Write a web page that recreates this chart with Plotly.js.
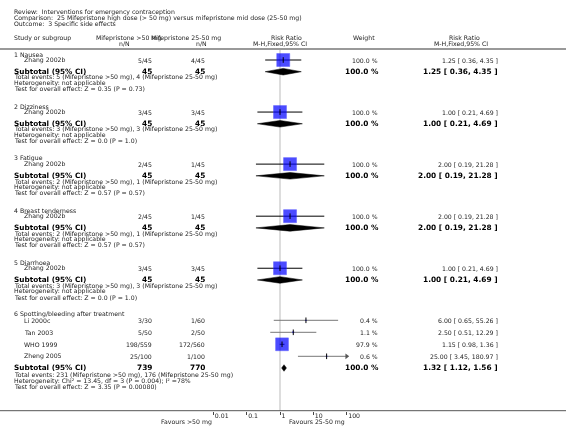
<!DOCTYPE html>
<html><head><meta charset="utf-8">
<script src="https://cdn.plot.ly/plotly-3.0.1.min.js"></script>
<style>
html,body{margin:0;padding:0;background:#fff}
#chart .main-svg:nth-of-type(2){filter:grayscale(1)}
#chart .xtick text{filter:grayscale(1)}
</style>
</head><body><div id="chart" style="width:566px;height:441px"></div>
<script>
// ---------- data ----------
const reviewTitle = "Review:\u00a0\u00a0Interventions for emergency contraception";
const comparisonTitle = "Comparison:\u00a0\u00a025 Mifepristone high dose (> 50 mg) versus mifepristone mid dose (25-50 mg)";
const outcomeTitle = "Outcome:\u00a0\u00a03 Specific side effects";
const groupHigh = "Mifepristone >50 mg";
const groupMid = "Mifepristone 25-50 mg";

const groupNames = ["1 Nausea", "2 Dizziness", "3 Fatigue", "4 Breast tenderness", "5 Diarrhoea", "6 Spotting/bleeding after treatment"];
const groupStudyCount = [1, 1, 1, 1, 1, 4];

const studyNames = ["Zhang 2002b", "Zhang 2002b", "Zhang 2002b", "Zhang 2002b", "Zhang 2002b", "Li 2000c", "Tan 2003", "WHO 1999", "Zheng 2005"];
const eventsHigh = [5, 3, 2, 2, 3, 3, 5, 198, 25];
const totalHigh = [45, 45, 45, 45, 45, 30, 50, 559, 100];
const eventsMid = [4, 3, 1, 1, 3, 1, 2, 172, 1];
const totalMid = [45, 45, 45, 45, 45, 60, 50, 560, 100];
const studyWeight = [100.0, 100.0, 100.0, 100.0, 100.0, 0.4, 1.1, 97.9, 0.6];
const studyRR = [1.25, 1.00, 2.00, 2.00, 1.00, 6.00, 2.50, 1.15, 25.00];
const studyLow = [0.36, 0.21, 0.19, 0.19, 0.21, 0.65, 0.51, 0.98, 3.45];
const studyHigh = [4.35, 4.69, 21.28, 21.28, 4.69, 55.26, 12.29, 1.36, 180.97];

const subTotalHigh = [45, 45, 45, 45, 45, 739];
const subTotalMid = [45, 45, 45, 45, 45, 770];
const subEventsHigh = [5, 3, 2, 2, 3, 231];
const subEventsMid = [4, 3, 1, 1, 3, 176];
const subWeight = [100.0, 100.0, 100.0, 100.0, 100.0, 100.0];
const subRR = [1.25, 1.00, 2.00, 2.00, 1.00, 1.32];
const subLow = [0.36, 0.21, 0.19, 0.19, 0.21, 1.12];
const subHigh = [4.35, 4.69, 21.28, 21.28, 4.69, 1.56];
const heterogeneity = ["not applicable", "not applicable", "not applicable", "not applicable", "not applicable",
  "Chi\u00b2 = 13.45, df = 3 (P = 0.004); I\u00b2 =78%"];
const zStat = ["0.35", "0.0", "0.57", "0.57", "0.0", "3.35"];
const pValue = ["0.73", "1.0", "0.57", "0.57", "1.0", "0.00080"];

const tickVals = [0.01, 0.1, 1, 10, 100];
const tickText = ["0.01", "0.1", "1", "10", "100"];
const favoursLeft = "Favours >50 mg";
const favoursRight = "Favours 25-50 mg";

// ---------- layout helpers ----------
const W = 566, H = 441;
const AXIS_Y = 410.7, HEADER_LINE_Y = 49;
const X0 = 213.3, X1 = 346.7;
const FONT = "DejaVu Sans, Verdana, sans-serif";
const SMALL = 6.2, BOLD = 7.4;
const TXT = "#222";

const annotations = [];
function ann(text, px, py, anchor, size, bold, color) {
  annotations.push({
    text: text, x: px / W, y: 1 - py / H, xref: "paper", yref: "paper",
    xanchor: anchor, yanchor: "middle", showarrow: false, borderpad: 0,
    font: {family: FONT, size: size, color: color || (bold ? "#000" : TXT), weight: bold ? "bold" : "normal"}
  });
}
const fmt2 = v => v.toFixed(2);
const rrText = (r, l, h) => fmt2(r) + " [ " + fmt2(l) + ", " + fmt2(h) + " ]";
const wText = w => w.toFixed(1) + " %";

// header
ann(reviewTitle, 13, 11.7, "left", SMALL);
ann(comparisonTitle, 13, 18.0, "left", SMALL);
ann(outcomeTitle, 13, 24.3, "left", SMALL);
ann("Study or subgroup", 13, 37.7, "left", SMALL);
ann(groupHigh, 95, 37.7, "left", SMALL);
ann(groupMid, 222, 37.7, "right", SMALL);
ann("n/N", 124.7, 43.3, "center", SMALL);
ann("n/N", 201, 43.3, "center", SMALL);
ann("Risk Ratio", 286, 37.7, "center", SMALL);
ann("M-H,Fixed,95% CI", 280, 43.3, "center", SMALL);
ann("Weight", 363.5, 37.7, "center", SMALL);
ann("Risk Ratio", 464.7, 37.7, "center", SMALL);
ann("M-H,Fixed,95% CI", 461, 43.3, "center", SMALL);

// rows
const ciBlack = {x: [], y: []}, ciGray = {x: [], y: []};
const sqX = [], sqY = [], sqS = [], ptX = [], ptY = [], arrX = [], arrY = [];
const diamonds = [];
let gy = 54, si = 0;
for (let g = 0; g < groupNames.length; g++) {
  ann(groupNames[g], 13, gy, "left", SMALL);
  let sy = gy + 6;
  for (let k = 0; k < groupStudyCount[g]; k++, si++) {
    if (k > 0) sy += 12;
    ann(studyNames[si], 23.3, sy, "left", SMALL);
    ann(eventsHigh[si] + "/" + totalHigh[si], 153, sy, "right", SMALL);
    ann(eventsMid[si] + "/" + totalMid[si], 206, sy, "right", SMALL);
    ann(wText(studyWeight[si]), 379, sy, "right", SMALL);
    ann(rrText(studyRR[si], studyLow[si], studyHigh[si]), 499, sy, "right", SMALL);
    const tgt = studyWeight[si] >= 50 ? ciBlack : ciGray;
    tgt.x.push(studyLow[si], studyHigh[si], null);
    tgt.y.push(sy, sy, null);
    sqX.push(studyRR[si]); sqY.push(sy); sqS.push(13 * Math.sqrt(studyWeight[si] / 100));
    ptX.push(studyRR[si]); ptY.push(sy);
    if (studyHigh[si] > tickVals[tickVals.length - 1]) { arrX.push(tickVals[tickVals.length - 1]); arrY.push(sy); }
  }
  const subY = sy + 11.7;
  ann("Subtotal (95% CI)", 13, subY, "left", 7.3, true);
  ann(String(subTotalHigh[g]), 153, subY, "right", BOLD, true);
  ann(String(subTotalMid[g]), 206, subY, "right", BOLD, true);
  ann(wText(subWeight[g]), 379.5, subY, "right", BOLD, true);
  ann(rrText(subRR[g], subLow[g], subHigh[g]), 499, subY, "right", BOLD, true);
  diamonds.push({lo: subLow[g], est: subRR[g], hi: subHigh[g], y: subY});
  const extra = groupStudyCount[g] > 1 ? 1.7 : 0;
  const totY = subY + 5.7 + extra, hetY = totY + 5.8, testY = hetY + 5.6;
  ann("Total events: " + subEventsHigh[g] + " (" + groupHigh + "), " + subEventsMid[g] + " (" + groupMid + ")", 13, totY, "left", SMALL);
  ann("Heterogeneity: " + heterogeneity[g], 13, hetY, "left", SMALL);
  ann("Test for overall effect: Z = " + zStat[g] + " (P = " + pValue[g] + ")", 13, testY, "left", SMALL);
  gy = testY + 17.26;
}

// footer
ann(favoursLeft, 213, 422.3, "right", SMALL);
ann(favoursRight, 346, 422.3, "right", SMALL);

// ---------- traces ----------
const traces = [];
traces.push({type: "scatter", mode: "lines", x: ciBlack.x, y: ciBlack.y, line: {color: "#000", width: 1}, hoverinfo: "skip"});
traces.push({type: "scatter", mode: "lines", x: ciGray.x, y: ciGray.y, line: {color: "#777", width: 1}, hoverinfo: "skip"});
traces.push({type: "scatter", mode: "markers", x: sqX, y: sqY,
  marker: {symbol: "square", size: sqS, color: "#0000ff", line: {color: "#1a1aff", width: 0.5}}, hoverinfo: "skip"});
traces.push({type: "scatter", mode: "markers", x: ptX, y: ptY,
  marker: {symbol: "line-ns", size: 4, line: {color: "#000", width: 1}}, hoverinfo: "skip"});
traces.push({type: "scatter", mode: "markers", x: arrX, y: arrY, cliponaxis: false,
  marker: {symbol: "triangle-right", size: 5, color: "#555"}, hoverinfo: "skip"});
diamonds.forEach(d => {
  traces.push({type: "scatter", mode: "lines", fill: "toself", fillcolor: "#000",
    x: [d.lo, d.est, d.hi, d.est, d.lo], y: [d.y, d.y - 3.3, d.y, d.y + 3.3, d.y],
    line: {color: "#000", width: 0.5}, hoverinfo: "skip"});
});

const layout = {
  width: W, height: H, margin: {l: 0, r: 0, t: 0, b: 0, pad: 0},
  paper_bgcolor: "#fff", plot_bgcolor: "rgba(0,0,0,0)", showlegend: false,
  xaxis: {type: "log", range: [-2, 2], domain: [X0 / W, X1 / W], tickvals: tickVals, ticktext: tickText,
    ticks: "outside", ticklen: 3, tickcolor: "#444", tickwidth: 1, showgrid: false, zeroline: false,
    showline: false, ticklabelposition: "outside right", ticklabelshift: 1, ticklabelstandoff: -1, fixedrange: true,
    tickfont: {family: FONT, size: SMALL, color: TXT}},
  yaxis: {domain: [(H - AXIS_Y) / H, 1], range: [AXIS_Y, 0], visible: false, showgrid: false, zeroline: false, fixedrange: true},
  shapes: [
    {type: "line", xref: "paper", yref: "paper", x0: 0, x1: 1, y0: 1 - HEADER_LINE_Y / H, y1: 1 - HEADER_LINE_Y / H, line: {color: "#999", width: 2}},
    {type: "line", xref: "paper", yref: "paper", x0: 0, x1: 1, y0: 1 - AXIS_Y / H, y1: 1 - AXIS_Y / H, line: {color: "#555", width: 1}},
    {type: "line", xref: "x", yref: "y", x0: 1, x1: 1, y0: HEADER_LINE_Y + 1, y1: AXIS_Y, layer: "below", line: {color: "#ddd", width: 2}}
  ],
  annotations: annotations
};
Plotly.newPlot("chart", traces, layout, {staticPlot: true, displayModeBar: false});
</script>
</body></html>
